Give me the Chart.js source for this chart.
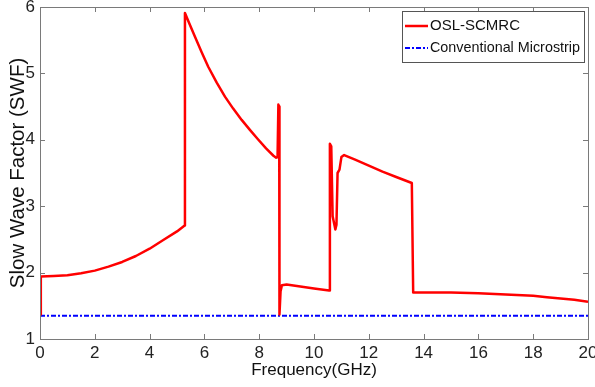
<!DOCTYPE html>
<html>
<head>
<meta charset="UTF-8">
<title>Slow Wave Factor</title>
<script src="https://cdn.jsdelivr.net/npm/chart.js@4.4.1/dist/chart.umd.min.js"></script>
<style>
  body { margin: 0; background: #fff; }
</style>
</head>
<body>
<canvas id="swfChart" width="595" height="387"></canvas>
<script>
// data
const freqOsl = [0, 0.03, 0.5, 1, 1.5, 2, 2.5, 3, 3.5, 4, 4.5, 5, 5.28,
  5.29, 5.45, 5.66, 5.9, 6.14, 6.45, 6.75, 7.05, 7.36, 7.66, 7.97, 8.25, 8.52, 8.62, 8.67,
  8.70, 8.73, 8.74, 8.78, 8.83, 9.0, 9.5, 10.0, 10.55,
  10.58, 10.63, 10.68, 10.78, 10.82, 10.86, 10.93, 11.0, 11.1, 11.5, 12, 12.5, 13, 13.57,
  13.62, 14, 15, 16, 17, 18, 18.5, 19, 19.5, 20];
const swfOsl = [1.37, 1.94, 1.95, 1.96, 1.99, 2.03, 2.09, 2.16, 2.25, 2.36, 2.49, 2.62, 2.71,
  5.91, 5.75, 5.55, 5.32, 5.10, 4.86, 4.65, 4.47, 4.30, 4.15, 4.00, 3.87, 3.76, 3.73, 3.74,
  4.53, 4.50, 1.37, 1.72, 1.81, 1.82, 1.79, 1.76, 1.73,
  3.94, 3.90, 2.85, 2.65, 2.72, 3.50, 3.55, 3.74, 3.77, 3.70, 3.61, 3.52, 3.44, 3.35,
  1.70, 1.70, 1.70, 1.69, 1.67, 1.65, 1.63, 1.61, 1.59, 1.56];
const freqConv = [0, 20];
const swfConv = [1.35, 1.35];

const xTicks = [0, 2, 4, 6, 8, 10, 12, 14, 16, 18, 20];
const yTicks = [1, 2, 3, 4, 5, 6];

const FONT = 'Arial, "Liberation Sans", sans-serif';

function toPoints(xs, ys) {
  return xs.map((x, i) => ({ x: x, y: ys[i] }));
}

// box around the plot, inward ticks on all sides, and the legend inside
const frameAndLegend = {
  id: 'frameAndLegend',
  afterDraw(chart) {
    const ctx = chart.ctx;
    const a = chart.chartArea;
    const xs = chart.scales.x, ys = chart.scales.y;
    ctx.save();
    ctx.strokeStyle = '#7a7a7a';
    ctx.lineWidth = 1;
    ctx.strokeRect(Math.round(a.left) + 0.5, Math.round(a.top) + 0.5,
      Math.round(a.right - a.left), Math.round(a.bottom - a.top));
    const tl = 5;
    ctx.beginPath();
    xTicks.forEach(v => {
      const px = Math.round(xs.getPixelForValue(v)) + 0.5;
      ctx.moveTo(px, a.bottom); ctx.lineTo(px, a.bottom - tl);
      ctx.moveTo(px, a.top); ctx.lineTo(px, a.top + tl);
    });
    yTicks.forEach(v => {
      const py = Math.round(ys.getPixelForValue(v)) + 0.5;
      ctx.moveTo(a.left, py); ctx.lineTo(a.left + tl, py);
      ctx.moveTo(a.right, py); ctx.lineTo(a.right - tl, py);
    });
    ctx.stroke();

    // legend
    const lx = 402, ly = 11, lw = 182, lh = 51;
    ctx.fillStyle = '#fff';
    ctx.fillRect(lx, ly, lw, lh);
    ctx.strokeStyle = '#555';
    ctx.strokeRect(lx + 0.5, ly + 0.5, lw, lh);
    ctx.font = '15px ' + FONT;
    ctx.textBaseline = 'middle';
    const rows = [26, 48];
    chart.data.datasets.forEach((ds, i) => {
      const y = rows[i];
      ctx.strokeStyle = ds.borderColor;
      ctx.lineWidth = ds.borderWidth;
      ctx.setLineDash(ds.borderDash || []);
      ctx.beginPath();
      ctx.moveTo(405, y); ctx.lineTo(428, y);
      ctx.stroke();
      ctx.setLineDash([]);
      ctx.fillStyle = '#111';
      const w = ctx.measureText(ds.label).width;
      const maxW = 150;
      if (i === 1 && w > maxW) {
        ctx.save();
        ctx.translate(430, y);
        ctx.scale(maxW / w, 1);
        ctx.fillText(ds.label, 0, 0);
        ctx.restore();
      } else {
        ctx.fillText(ds.label, 430, y);
      }
    });
    ctx.restore();
  }
};

new Chart(document.getElementById('swfChart'), {
  type: 'line',
  data: {
    datasets: [
      {
        label: 'OSL-SCMRC',
        data: toPoints(freqOsl, swfOsl),
        borderColor: '#ff0000',
        borderWidth: 2.5,
        pointRadius: 0,
        tension: 0,
        borderJoinStyle: 'round',
        fill: false
      },
      {
        label: 'Conventional Microstrip',
        data: toPoints(freqConv, swfConv),
        borderColor: '#0000ff',
        borderWidth: 2,
        borderDash: [5, 2, 2, 2],
        pointRadius: 0,
        fill: false
      }
    ]
  },
  options: {
    responsive: false,
    animation: false,
    layout: { padding: { top: 7, right: 7, left: 0, bottom: 0 } },
    plugins: {
      legend: { display: false },
      tooltip: { enabled: false }
    },
    scales: {
      x: {
        type: 'linear',
        min: 0, max: 20,
        afterBuildTicks: s => { s.ticks = xTicks.map(v => ({ value: v })); },
        afterFit: s => { s.height = 48; s.paddingLeft = 0; s.paddingRight = 0; },
        grid: { display: false, drawTicks: false },
        border: { display: false },
        ticks: { font: { size: 17, family: FONT }, color: '#222', padding: 4, maxRotation: 0 },
        title: { display: true, text: 'Frequency(GHz)', color: '#111',
          font: { size: 17, family: FONT }, padding: { top: 0, bottom: 6 } }
      },
      y: {
        min: 1, max: 6,
        afterBuildTicks: s => { s.ticks = yTicks.map(v => ({ value: v })); },
        afterFit: s => { s.width = 40; s.paddingTop = 0; s.paddingBottom = 0; },
        grid: { display: false, drawTicks: false },
        border: { display: false },
        ticks: { font: { size: 17, family: FONT }, color: '#222', padding: 5 },
        title: { display: true, text: 'Slow Wave Factor (SWF)', color: '#111',
          font: { size: 20.5, family: FONT }, padding: { top: 6, bottom: 0 } }
      }
    }
  },
  plugins: [frameAndLegend]
});
</script>
</body>
</html>
